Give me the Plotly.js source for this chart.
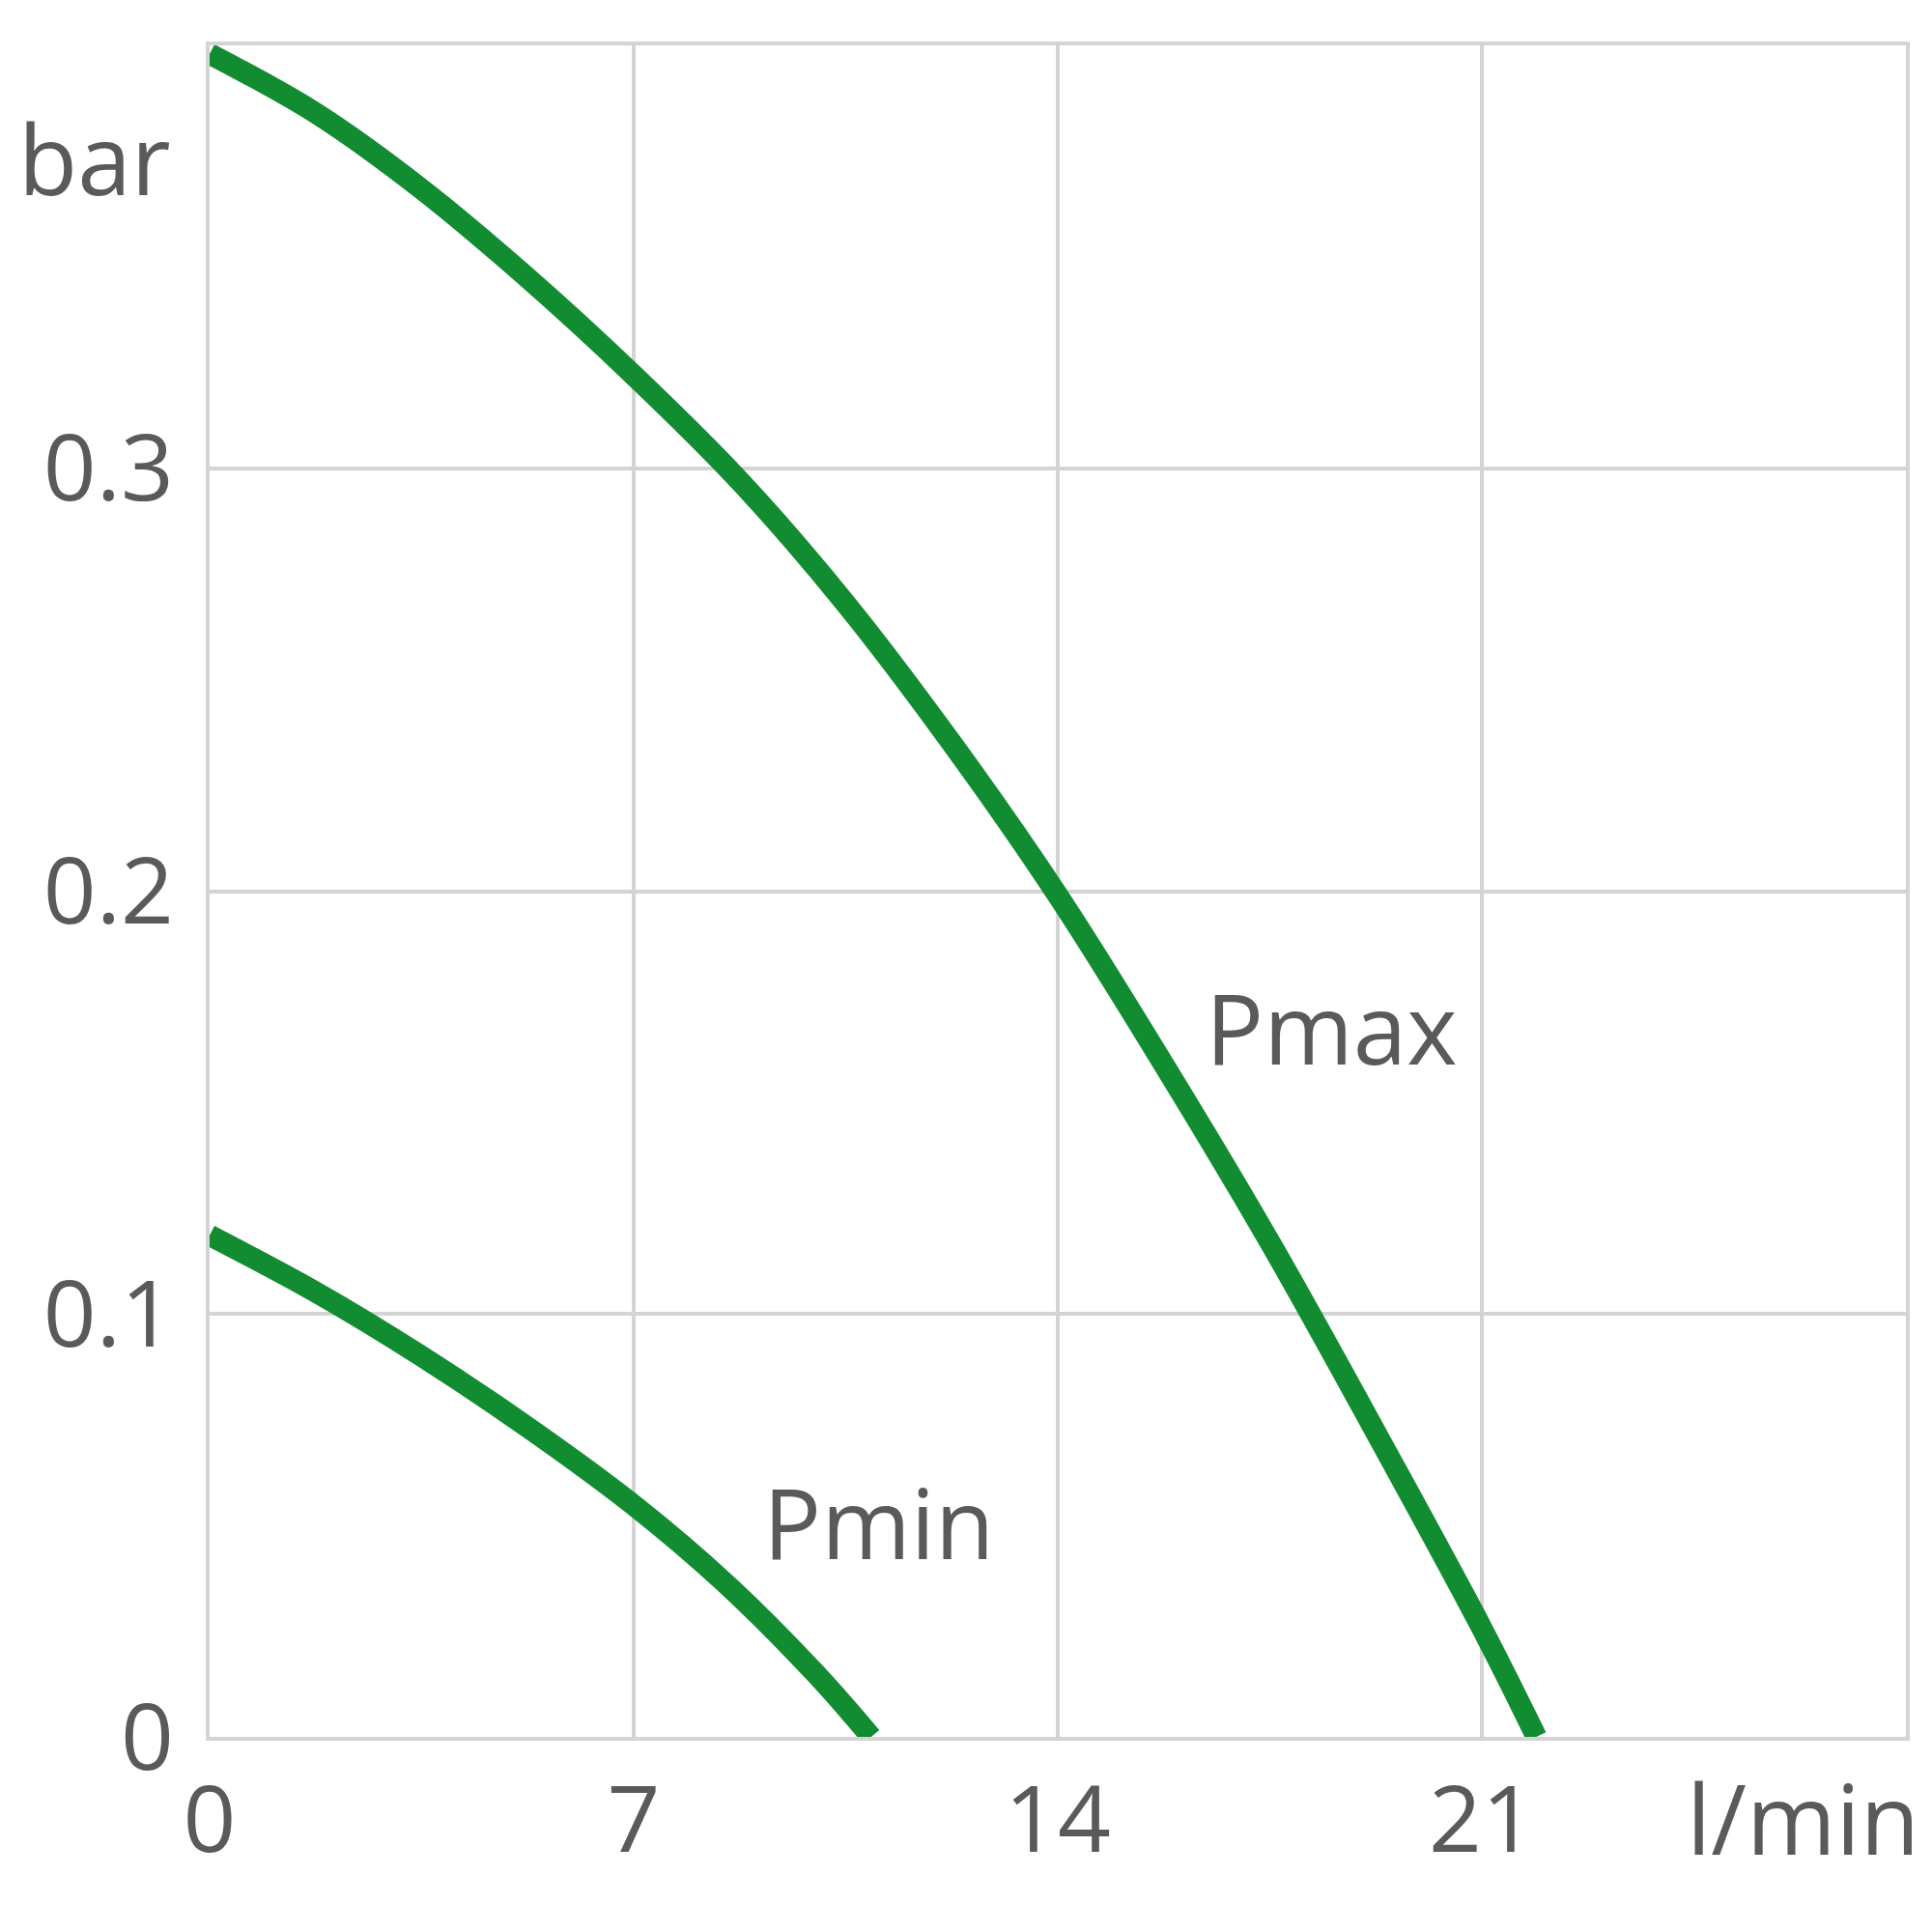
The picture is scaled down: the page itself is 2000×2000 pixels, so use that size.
<!DOCTYPE html>
<html>
<head>
<meta charset="utf-8">
<script src="https://cdn.plot.ly/plotly-3.0.1.min.js"></script>
<style>
  html, body { margin: 0; padding: 0; background: #ffffff; }
  #chart { width: 2000px; height: 2000px; }
</style>
</head>
<body>
<div id="chart"></div>
<script>
// Pump curves (flow l/min, pressure bar)
const pmaxFlow = [0, 1.75, 3.5, 5.25, 7, 8.75, 10.5, 12.25, 14, 15.75, 17.5, 19.25, 21, 21.9];
const pmaxBar = [0.398, 0.384, 0.366, 0.345, 0.322, 0.297, 0.268, 0.235, 0.199, 0.159, 0.117, 0.072, 0.0257, 0];
const pminFlow = [0, 1.75, 3.5, 5.25, 7, 8.5, 10, 10.92];
const pminBar = [0.1186, 0.1052, 0.090, 0.0732, 0.0548, 0.0365, 0.015, 0];

const xTicks = [0, 7, 14, 21];
const yTicks = [0, 0.1, 0.2, 0.3];

const green = '#118c30';
const grey = '#d4d4d4';
const textColor = '#5a5a5a';
const font = 'Open Sans, DejaVu Sans, sans-serif';

function curve(x, y, name) {
    return {
        x: x,
        y: y,
        type: 'scatter',
        mode: 'lines',
        name: name,
        line: { color: green, width: 22, shape: 'spline', smoothing: 1 },
        hoverinfo: 'skip'
    };
}

const data = [curve(pmaxFlow, pmaxBar, 'Pmax'), curve(pminFlow, pminBar, 'Pmin')];

const labelFont = { family: font, size: 100, color: textColor };

const layout = {
    width: 2000,
    height: 2000,
    margin: { l: 217, r: 27, t: 47, b: 202 },
    paper_bgcolor: 'white',
    plot_bgcolor: 'white',
    showlegend: false,
    xaxis: {
        range: [0, 28],
        tickvals: xTicks,
        ticktext: xTicks.map(String),
        showgrid: true,
        gridcolor: grey,
        gridwidth: 4,
        zeroline: false,
        showline: true,
        mirror: true,
        linecolor: grey,
        linewidth: 4,
        ticks: '',
        ticklabelstandoff: 0,
        tickfont: { family: font, size: 96, color: textColor }
    },
    yaxis: {
        range: [0, 0.4],
        tickvals: yTicks,
        ticktext: yTicks.map(String),
        showgrid: true,
        gridcolor: grey,
        gridwidth: 4,
        zeroline: false,
        showline: true,
        mirror: true,
        linecolor: grey,
        linewidth: 4,
        ticks: '',
        ticklabelstandoff: 14,
        tickfont: { family: font, size: 96, color: textColor }
    },
    annotations: [
        { text: 'bar', xref: 'paper', x: 0, xanchor: 'right', xshift: -38,
          yref: 'y', y: 0.3735, yanchor: 'middle', showarrow: false, font: labelFont },
        { text: 'l/min', xref: 'x', x: 28, xanchor: 'right', xshift: 16,
          yref: 'paper', y: 0, yanchor: 'middle', yshift: -83, showarrow: false, font: labelFont },
        { text: 'Pmax', xref: 'x', x: 16.4, xanchor: 'left',
          yref: 'y', y: 0.168, yanchor: 'middle', showarrow: false, font: labelFont },
        { text: 'Pmin', xref: 'x', x: 9.1, xanchor: 'left',
          yref: 'y', y: 0.051, yanchor: 'middle', showarrow: false, font: labelFont }
    ]
};

Plotly.newPlot('chart', data, layout, { staticPlot: true });
</script>
</body>
</html>
